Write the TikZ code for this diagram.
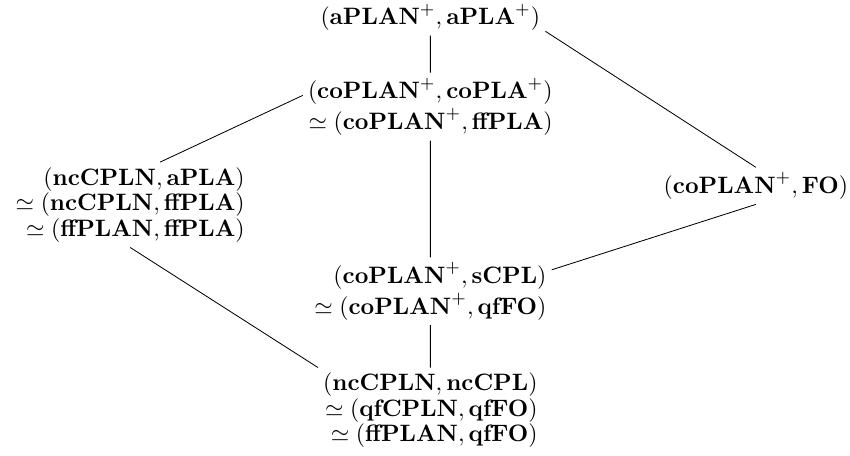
\documentclass[tikz,border=0pt]{standalone}
\usepackage{amsmath}
\usepackage{amssymb}
\usetikzlibrary{positioning}

\begin{document}
\begin{tikzpicture}[
    lat/.style={inner sep=2pt, align=right, font=\fontsize{10}{10.8}\selectfont},
    link/.style={draw},
    every node/.style={scale=1.14}
    ]
    \useasboundingbox (0,0) rectangle (14.36,-7.69);

    % Top
    \node[lat] (top) at (7.27,-0.29) {$(\mathbf{aPLAN}^{+},\mathbf{aPLA}^{+})$};

    % Middle column
    \node[lat] (co) at (7.27,-1.80) {$(\mathbf{coPLAN}^{+},\mathbf{coPLA}^{+})$\\[0.8pt]
        $\simeq(\mathbf{coPLAN}^{+},\mathbf{ffPLA})$};
    \node[lat] (scpl) at (7.27,-4.92) {$(\mathbf{coPLAN}^{+},\mathbf{sCPL})$\\[0.8pt]
        $\simeq(\mathbf{coPLAN}^{+},\mathbf{qfFO})$};

    % Bottom
    \node[lat] (bot) at (7.27,-6.93) {$(\mathbf{ncCPLN},\mathbf{ncCPL})$\\
        $\simeq(\mathbf{qfCPLN},\mathbf{qfFO})$\\
        $\simeq(\mathbf{ffPLAN},\mathbf{qfFO})$};

    % Left
    \node[lat] (nc) at (2.2,-3.46) {$(\mathbf{ncCPLN},\mathbf{aPLA})$\\
        $\simeq(\mathbf{ncCPLN},\mathbf{ffPLA})$\\
        $\simeq(\mathbf{ffPLAN},\mathbf{ffPLA})$};

    % Right
    \node[lat] (fo) at (12.77,-3.14) {$(\mathbf{coPLAN}^{+},\mathbf{FO})$};

    % Order
    \draw[link] (top) -- (co);
    \draw[link] (top.-7) -- (fo.north);
    \draw[link] (co.175) -- (nc.55);
    \draw[link] (co) -- (scpl);
    \draw[link] (fo.south) -- (scpl.10);
    \draw[link] (nc.south) -- (bot.north west);
    \draw[link] (scpl) -- (bot);

\end{tikzpicture}
\end{document}
